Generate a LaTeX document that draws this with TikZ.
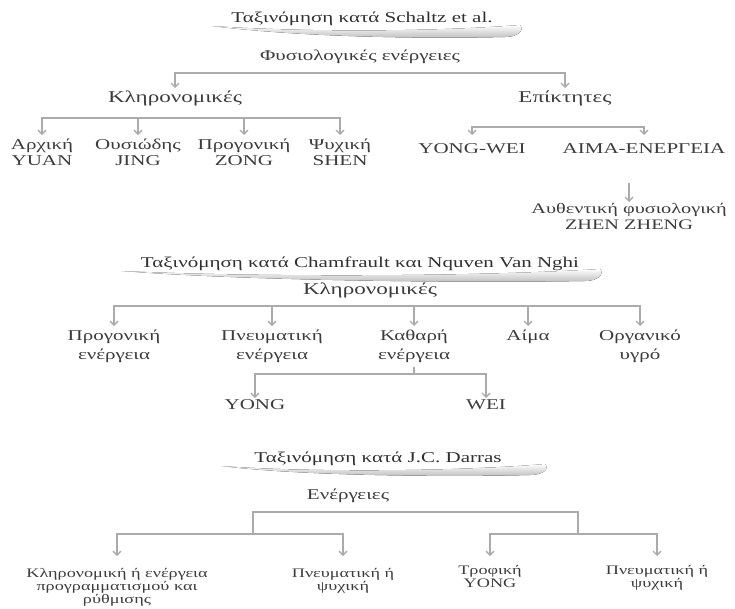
\documentclass[tikz,border=0pt]{standalone}
\usepackage{fontspec}
\setmainfont{Liberation Serif}[FakeStretch=1.4]
\usetikzlibrary{arrows.meta}
\definecolor{txt}{HTML}{3C3C3C}
\definecolor{ln}{HTML}{ABABAB}
\begin{document}
\begin{tikzpicture}[x=1pt,y=-1pt,
  lbl/.style={text=txt, inner sep=1pt, align=center, font=\fontsize{15}{16}\selectfont},
  lblk/.style={lbl, font=\fontsize{16.5}{18}\selectfont},
  lblb/.style={lbl, font=\fontsize{15}{19}\selectfont},
  lbls/.style={lbl, font=\fontsize{13}{13}\selectfont},
  ttl/.style={text=txt!80!black, inner sep=1pt, font=\fontsize{15}{16}\selectfont},
  conn/.style={draw=ln, line width=1.4pt},
  tip/.tip={Straight Barb[length=4pt,width=8pt]},
  arr/.style={conn,-tip},
  arr2/.style={conn,tip-tip},
  swoosh/.style={top color=white, bottom color=gray!55, draw=none}
]
\useasboundingbox (0,0) rectangle (735,608);

% ---------- Schaltz ----------
\fill[swoosh] (212,26) .. controls (300,32) and (430,32) .. (520,25)
  .. controls (525,30) and (518,37) .. (505,37)
  .. controls (420,39) and (300,37) .. (212,26) -- cycle;
\node[ttl] (t1) at (362,19) {Ταξινόμηση κατά Schaltz et al.};
\node[lbl] (phys) at (360,57) {Φυσιολογικές ενέργειες};

\node[lblk, anchor=north, inner ysep=3pt] (kl1) at (175,88) {Κληρονομικές};
\node[lblk, anchor=north, inner ysep=3pt] (ep) at (565,88) {Επίκτητες};
\draw[arr2] (kl1.north) -- (kl1.north |- 0,73) -- (ep.north |- 0,73) -- (ep.north);

\node[lbl, anchor=north, inner ysep=4pt] (c11) at (42,135) {Αρχική\\YUAN};
\node[lbl, anchor=north, inner ysep=4pt] (c12) at (138,135) {Ουσιώδης\\JING};
\node[lbl, anchor=north, inner ysep=4pt] (c13) at (244,135) {Προγονική\\ZONG};
\node[lbl, anchor=north, inner ysep=4pt] (c14) at (340,135) {Ψυχική\\SHEN};
\draw[arr2] (c11.north) -- (c11.north |- 0,118) -- (c14.north |- 0,118) -- (c14.north);
\draw[arr] (c12.north |- 0,118) -- (c12.north);
\draw[arr] (c13.north |- 0,118) -- (c13.north);

\node[lbl, anchor=north, inner ysep=8pt] (yw) at (472,135) {YONG-WEI};
\node[lbl, anchor=north, inner ysep=8pt] (aim) at (644,135) {ΑΙΜΑ-ΕΝΕΡΓΕΙΑ};
\draw[arr2] (yw.north) -- (yw.north |- 0,127) -- (aim.north |- 0,127) -- (aim.north);

\node[lbl, anchor=north, font=\fontsize{14.5}{16}\selectfont] (auth) at (629,202) {Αυθεντική φυσιολογική\\ZHEN ZHENG};
\draw[arr] (auth.north |- 0,183) -- (auth.north);

% ---------- Chamfrault ----------
\fill[swoosh] (122,271) .. controls (250,277) and (470,277) .. (600,269)
  .. controls (605,274) and (598,281) .. (585,281)
  .. controls (470,283) and (250,281) .. (122,271) -- cycle;
\node[ttl] (t2) at (360,264) {Ταξινόμηση κατά Chamfrault και Nquven Van Nghi};
\node[lblk] (kl2) at (370,290) {Κληρονομικές};

\node[lblb, anchor=north, inner ysep=4pt] (c21) at (114,326) {Προγονική\\ενέργεια};
\node[lblb, anchor=north, inner ysep=4pt] (c22) at (272,326) {Πνευματική\\ενέργεια};
\node[lblb, anchor=north, inner ysep=4pt] (c23) at (414,326) {Καθαρή\\ενέργεια};
\node[lblb, anchor=north, inner ysep=4pt] (c24) at (528,326) {Αίμα};
\node[lblb, anchor=north, inner ysep=4pt] (c25) at (640,326) {Οργανικό\\υγρό};
\draw[arr2] (c21.north) -- (c21.north |- 0,306) -- (c25.north |- 0,306) -- (c25.north);
\draw[arr] (c22.north |- 0,306) -- (c22.north);
\draw[arr] (c23.north |- 0,306) -- (c23.north);
\draw[arr] (c24.north |- 0,306) -- (c24.north);

\node[lbl, anchor=north] (yong) at (255,398) {YONG};
\node[lbl, anchor=north] (wei) at (486,398) {WEI};
\draw[conn] (c23.south) -- (c23.south |- 0,374);
\draw[arr2] (yong.north) -- (yong.north |- 0,374) -- (wei.north |- 0,374) -- (wei.north);

% ---------- Darras ----------
\fill[swoosh] (222,466) .. controls (300,472) and (450,472) .. (545,464)
  .. controls (550,469) and (543,475) .. (530,475)
  .. controls (450,477) and (300,476) .. (222,466) -- cycle;
\node[ttl] (t3) at (378,459) {Ταξινόμηση κατά J.C. Darras};
\node[lbl] (en) at (348,496) {Ενέργειες};

\coordinate (jl) at (253,534);
\coordinate (jr) at (578,534);
\draw[conn] (jl) -- (jl |- 0,512) -- (jr |- 0,512) -- (jr);

\node[lbls, anchor=north, inner ysep=12pt] (d1) at (117,556) {Κληρονομική ή ενέργεια\\προγραμματισμού και\\ρύθμισης};
\node[lbls, anchor=north, inner ysep=12pt] (d2) at (343,556) {Πνευματική ή\\ψυχική};
\node[lbls, anchor=north, inner ysep=9pt] (d3) at (490,556) {Τροφική\\YONG};
\node[lbls, anchor=north, inner ysep=9pt] (d4) at (657,556) {Πνευματική ή\\ψυχική};
\draw[arr2] (d1.north) -- (d1.north |- jl) -- (d2.north |- jl) -- (d2.north);
\draw[arr2] (d3.north) -- (d3.north |- jr) -- (d4.north |- jr) -- (d4.north);
\end{tikzpicture}
\end{document}
